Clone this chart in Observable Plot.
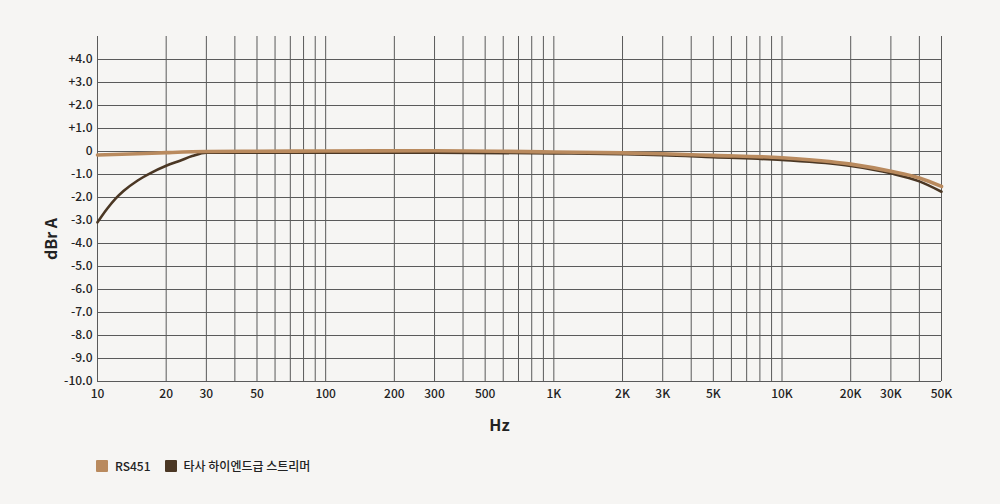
<!DOCTYPE html>
<html><head><meta charset="utf-8">
<script src="https://cdn.jsdelivr.net/npm/d3@7"></script>
<script src="https://cdn.jsdelivr.net/npm/@observablehq/plot@0.6"></script>
<style>
body{margin:0;background:#f6f5f3;font-family:"Noto Sans CJK KR",Inter,sans-serif;}
#legend{display:flex;align-items:center;gap:14px;padding-left:96px;height:24px;margin-top:13px;font-size:12px;color:#222;font-weight:500}
#legend span.sw{display:inline-block;width:12px;height:12px;margin-right:7px;vertical-align:-1px;border-radius:1px}
</style></head>
<body>
<div id="chart"></div>
<div id="legend"></div>
<script>
const series = ["RS451", "타사 하이엔드급 스트리머"];
const colors = ["#b98a5e", "#4b3724"];
const freqRS = [10, 15, 20, 30, 50, 100, 300, 1000, 2000, 3000, 5000, 10000, 20000, 30000, 40000, 50000];
const dbRS = [-0.15, -0.1, -0.05, 0, 0.01, 0.02, 0.03, -0.02, -0.06, -0.1, -0.17, -0.27, -0.55, -0.86, -1.15, -1.52];
const freqOther = [10, 11, 12, 13, 15, 17, 20, 23, 26, 30, 50, 100, 300, 1000, 2000, 3000, 5000, 10000, 20000, 30000, 40000, 50000];
const dbOther = [-3.08, -2.5, -2.05, -1.72, -1.26, -0.95, -0.62, -0.4, -0.2, -0.05, -0.05, -0.05, -0.05, -0.08, -0.12, -0.16, -0.25, -0.37, -0.63, -0.95, -1.3, -1.75];
const xTicks = [10, 20, 30, 50, 100, 200, 300, 500, 1000, 2000, 3000, 5000, 10000, 20000, 30000, 50000];
const xTickLabels = ["10","20","30","50","100","200","300","500","1K","2K","3K","5K","10K","20K","30K","50K"];
const xGrid = [10,20,30,40,50,60,70,80,90,100,200,300,400,500,600,700,800,900,1000,2000,3000,4000,5000,6000,7000,8000,9000,10000,20000,30000,40000,50000];
const yTicks = [4,3,2,1,0,-1,-2,-3,-4,-5,-6,-7,-8,-9,-10];
const yTickLabels = ["+4.0","+3.0","+2.0","+1.0","0","-1.0","-2.0","-3.0","-4.0","-5.0","-6.0","-7.0","-8.0","-9.0","-10.0"];

const rs = freqRS.map((f,i)=>({f, db: dbRS[i]}));
const other = freqOther.map((f,i)=>({f, db: dbOther[i]}));

const chart = Plot.plot({
  width: 1000, height: 440,
  marginTop: 36, marginBottom: 59, marginLeft: 97, marginRight: 59,
  style: {background: "transparent", fontFamily: "'Noto Sans CJK KR', Inter, sans-serif", fontSize: "12px", color: "#222"},
  x: {type: "log", domain: [10, 50000]},
  y: {domain: [-10, 5]},
  marks: [
    Plot.ruleX(xGrid, {x: d=>d, y1: -10, y2: 5, stroke: "#5a5a5a", strokeWidth: 1}),
    Plot.ruleY(yTicks, {y: d=>d, stroke: "#5a5a5a", strokeWidth: 1}),
    Plot.text(xTicks, {x: d=>d, text: (d,i)=>xTickLabels[i], frameAnchor: "bottom", dy: 16, fontWeight: 500, fill: "#222", fontSize: 12}),
    Plot.axisX({ticks: [], tickSize: 0,
      label: "Hz", labelAnchor: "center", labelArrow: "none", labelOffset: 49}),
    Plot.axisY({ticks: yTicks, tickFormat: d => yTickLabels[yTicks.indexOf(d)], tickSize: 0, tickPadding: 5, fontWeight: 500,
      label: "dBr A", labelAnchor: "center", labelArrow: "none", labelOffset: 52}),
    Plot.line(other, {x: "f", y: "db", stroke: colors[1], strokeWidth: 2.6, curve: "monotone-x"}),
    Plot.line(rs, {x: "f", y: "db", stroke: colors[0], strokeWidth: 3.6, curve: "monotone-x"})
  ]
});
const xl = d3.select(chart).select("g[aria-label='x-axis label']");
xl.attr("transform", ((xl.attr("transform")||"") + " translate(-20,0)").trim());
const yl = d3.select(chart).select("g[aria-label='y-axis label']");
yl.attr("transform", ((yl.attr("transform")||"") + " translate(0,30)").trim());
d3.select(chart).selectAll("g[aria-label='x-axis label'] text, g[aria-label='y-axis label'] text")
  .style("font-size", "16px").style("font-weight", "700").style("fill", "#222");
document.getElementById("chart").appendChild(chart);

const lg = document.getElementById("legend");
series.forEach((s,i)=>{
  const item = document.createElement("div");
  item.innerHTML = `<span class="sw" style="background:${colors[i]}"></span>${s}`;
  lg.appendChild(item);
});
</script>
</body></html>
